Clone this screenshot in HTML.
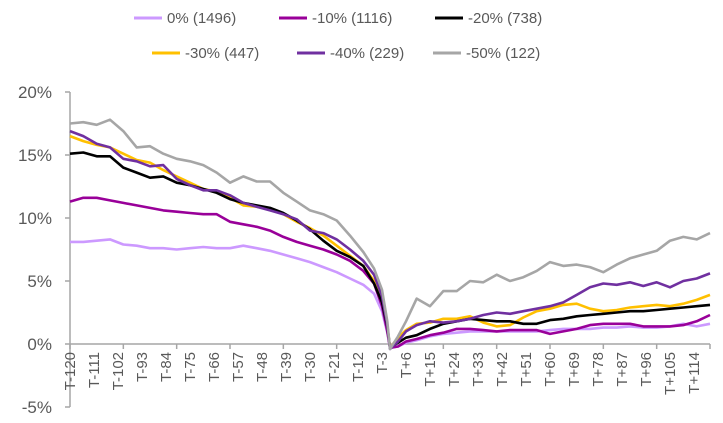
<!DOCTYPE html>
<html><head><meta charset="utf-8"><style>
body{margin:0;background:#fff;}
svg{display:block;font-family:"Liberation Sans",sans-serif;}
</style></head><body>
<svg id="chart" width="723" height="423" viewBox="0 0 723 423" xmlns="http://www.w3.org/2000/svg">
<g id="legend"></g>
<g id="axes"></g>
<g id="plot"></g>
</svg>
<script>
const days = [-120,-115,-110,-105,-100,-95,-90,-85,-80,-75,-70,-65,-60,-55,-50,-45,-40,-35,-30,-25,-20,-15,-10,-6,-3,-1,0,3,6,10,15,20,25,30,35,40,45,50,55,60,65,70,75,80,85,90,95,100,105,110,115,120];
const s0 = [8.1,8.1,8.2,8.3,7.9,7.8,7.6,7.6,7.5,7.6,7.7,7.6,7.6,7.8,7.6,7.4,7.1,6.8,6.5,6.1,5.7,5.2,4.7,4.0,2.6,0.9,-0.3,-0.2,0.1,0.3,0.6,0.8,0.9,1.0,1.0,1.0,1.0,1.0,1.0,1.1,1.2,1.2,1.2,1.3,1.3,1.4,1.3,1.3,1.4,1.6,1.4,1.6];
const s10 = [11.3,11.6,11.6,11.4,11.2,11.0,10.8,10.6,10.5,10.4,10.3,10.3,9.7,9.5,9.3,9.0,8.5,8.1,7.8,7.5,7.1,6.6,5.8,4.8,3.0,1.0,-0.3,-0.2,0.2,0.4,0.7,0.9,1.2,1.2,1.1,1.0,1.1,1.1,1.1,0.8,1.0,1.2,1.5,1.6,1.6,1.6,1.4,1.4,1.4,1.5,1.8,2.3];
const s20 = [15.1,15.2,14.9,14.9,14.0,13.6,13.2,13.3,12.8,12.6,12.3,12.0,11.5,11.2,11.0,10.8,10.4,9.8,9.1,8.2,7.4,6.9,6.2,4.8,3.3,1.4,-0.3,0.1,0.5,0.7,1.2,1.6,1.8,2.0,1.9,1.8,1.8,1.6,1.6,1.9,2.0,2.2,2.3,2.4,2.5,2.6,2.6,2.7,2.8,2.9,3.0,3.1];
const s30 = [16.5,16.1,15.8,15.6,15.1,14.6,14.4,13.8,13.3,12.8,12.3,12.1,11.6,11.0,10.9,10.7,10.3,9.7,9.2,8.6,7.8,7.0,6.2,5.0,3.5,1.5,-0.3,0.5,1.1,1.6,1.7,2.0,2.0,2.2,1.7,1.4,1.5,2.1,2.6,2.8,3.1,3.2,2.8,2.6,2.7,2.9,3.0,3.1,3.0,3.2,3.5,3.9];
const s40 = [16.9,16.5,15.9,15.6,14.7,14.5,14.1,14.2,13.1,12.6,12.2,12.2,11.8,11.2,10.9,10.6,10.3,9.9,9.0,8.8,8.3,7.5,6.6,5.5,3.8,1.5,-0.4,0.2,1.0,1.5,1.8,1.7,1.8,2.0,2.3,2.5,2.4,2.6,2.8,3.0,3.3,3.9,4.5,4.8,4.7,4.9,4.6,4.9,4.5,5.0,5.2,5.6];
const s50 = [17.5,17.6,17.4,17.8,16.9,15.6,15.7,15.1,14.7,14.5,14.2,13.6,12.8,13.3,12.9,12.9,12.0,11.3,10.6,10.3,9.8,8.6,7.3,6.0,4.3,1.8,-0.4,0.6,1.8,3.6,3.0,4.2,4.2,5.0,4.9,5.5,5.0,5.3,5.8,6.5,6.2,6.3,6.1,5.7,6.3,6.8,7.1,7.4,8.2,8.5,8.3,8.8];
const seriesNames = ["0% (1496)","-10% (1116)","-20% (738)","-30% (447)","-40% (229)","-50% (122)"];
const yTicks = [20,15,10,5,0,-5];
const xLabelDays = [-120,-111,-102,-93,-84,-75,-66,-57,-48,-39,-30,-21,-12,-3,6,15,24,33,42,51,60,69,78,87,96,105,114];
const xTickDays = [-120,-100,-80,-60,-40,-20,0,20,40,60,80,100,120];

const NS="http://www.w3.org/2000/svg";
const X0=70,X1=710,Y0=344,PPU=12.6;
const xs=d=>X0+(d+120)*(X1-X0)/240;
const ys=v=>Y0-v*PPU;
function mk(tag,attrs,parent){const e=document.createElementNS(NS,tag);for(const k in attrs)e.setAttribute(k,attrs[k]);parent.appendChild(e);return e;}
const axes=document.getElementById('axes'),plot=document.getElementById('plot'),legend=document.getElementById('legend');
const grey="#595959",axisC="#a6a6a6";
let yl=mk('line',{x1:X0,y1:ys(20),x2:X0,y2:ys(-5),stroke:axisC,'stroke-width':1.5},axes);


yTicks.forEach(v=>{
  let t=mk('line',{x1:X0-5,y1:ys(v),x2:X0,y2:ys(v),stroke:axisC,'stroke-width':1.5},axes);
  
  
  let l=mk('text',{x:52,y:ys(v)+6,'text-anchor':'end','font-size':17,fill:grey},axes);
  l.textContent=v+'%';
  
  
});
let xl=mk('line',{x1:X0,y1:Y0,x2:X1,y2:Y0,stroke:axisC,'stroke-width':1.5},axes);


xTickDays.forEach(d=>{
  let t=mk('line',{x1:xs(d),y1:Y0,x2:xs(d),y2:Y0+5,stroke:axisC,'stroke-width':1.5},axes);
  
  
});
xLabelDays.forEach(d=>{
  const x=xs(d)+5,y=352;
  let l=mk('text',{x:x,y:y,'text-anchor':'end','font-size':15,fill:grey,transform:`rotate(-90 ${x} ${y})`},axes);
  l.textContent=d<0?('T'+d):('T+'+d);
  
  
});
const series=[s0,s10,s20,s30,s40,s50];
const colors=["#cc99ff","#990099","#000000","#ffc000","#7030a0","#a6a6a6"];
const order=[0,1,3,2,4,5];
order.forEach(i=>{
  const pts=days.map((d,j)=>xs(d).toFixed(1)+','+ys(series[i][j]).toFixed(1)).join(' ');
  let p=mk('polyline',{points:pts,fill:'none',stroke:colors[i],'stroke-width':2.6,'stroke-linejoin':'round'},plot);
  
  
});
const legPos=[[134,18],[279,18],[435,18],[152,53],[297,53],[433,53]];
seriesNames.forEach((n,i)=>{
  const [x,y]=legPos[i];
  let g=mk('g',{},legend);
  
  
  mk('line',{x1:x,y1:y,x2:x+28,y2:y,stroke:colors[i],'stroke-width':3},g);
  let t=mk('text',{x:x+33,y:y+5,'font-size':15,fill:grey},g);
  t.textContent=n;
});
</script>
</body></html>
